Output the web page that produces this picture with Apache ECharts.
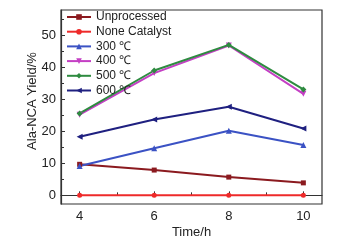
<!DOCTYPE html>
<html>
<head>
<meta charset="utf-8">
<script src="https://cdn.jsdelivr.net/npm/echarts@6/dist/echarts.min.js"></script>
<style>
  html, body { margin: 0; padding: 0; background: #fff; }
  #chart { width: 340px; height: 246px; }
</style>
</head>
<body>
<div id="chart"></div>
<script>
// time points (h)
const hours = [4, 6, 8, 10];

const unprocessed = [9.7, 7.9, 5.7, 3.9];
const noneCatalyst = [0, 0, 0, 0];
const t300 = [9.2, 14.7, 20.2, 15.7];
const t400 = [25.2, 38.2, 46.8, 31.7];
const t500 = [25.6, 39.0, 47.0, 33.1];
const t600 = [18.3, 23.7, 27.7, 20.9];

const xMajor = [4, 6, 8, 10];
const xMinor = [5, 7, 9];
const yMajor = [0, 10, 20, 30, 40, 50];
const yMinor = [5, 15, 25, 35, 45, 55];

const font = 'Liberation Sans, Arial, sans-serif';
const textColor = '#222';
const axisColor = '#333';

const seriesDefs = [
  { name: 'Unprocessed', data: unprocessed, color: '#8b1a1f', symbol: 'rect', size: 5 },
  { name: 'None Catalyst', data: noneCatalyst, color: '#ee2a2a', symbol: 'circle', size: 5 },
  { name: '300 ℃', data: t300, color: '#3b52c4', symbol: 'triangle', size: 6 },
  { name: '400 ℃', data: t400, color: '#c43fc4', symbol: 'path://M0,0 L10,0 L5,10 Z', size: 6 },
  { name: '500 ℃', data: t500, color: '#2e8b40', symbol: 'diamond', size: 6 },
  { name: '600 ℃', data: t600, color: '#1f2080', symbol: 'path://M0,5 L10,0 L10,10 Z', size: 6 },
];

const myChart = echarts.init(document.getElementById('chart'));

const hiddenAxisBits = {
  axisLine: { show: false },
  axisLabel: { show: false },
  splitLine: { show: false },
};

myChart.setOption({
  animation: false,
  textStyle: { fontFamily: font },
  grid: {
    left: 61,
    right: 18,
    top: 10,
    bottom: 42,
    show: true,
    borderColor: axisColor,
    borderWidth: 1.2,
  },
  legend: {
    orient: 'vertical',
    left: 66,
    top: 11,
    padding: 0,
    itemWidth: 24,
    itemHeight: 7,
    itemGap: 2.7,
    textStyle: { fontSize: 12, color: textColor, fontFamily: font },
    data: seriesDefs.map((s) => s.name),
  },
  xAxis: [
    {
      type: 'value',
      min: 3.5,
      max: 10.5,
      name: 'Time/h',
      nameLocation: 'middle',
      nameGap: 22,
      nameMoveOverlap: false,
      nameTextStyle: { fontSize: 13, color: textColor },
      axisLine: { show: true, lineStyle: { color: axisColor, width: 1.2 } },
      axisTick: { inside: true, length: 4, lineStyle: { color: axisColor }, customValues: xMajor },
      axisLabel: { fontSize: 13, color: textColor, margin: 6, customValues: xMajor },
      splitLine: { show: false },
    },
    {
      type: 'value',
      min: 3.5,
      max: 10.5,
      position: 'bottom',
      ...hiddenAxisBits,
      axisTick: { show: true, inside: true, length: 3, lineStyle: { color: axisColor }, customValues: xMinor },
    },
  ],
  yAxis: [
    {
      type: 'value',
      min: -2.7,
      max: 57.9,
      name: 'Ala-NCA Yield/%',
      nameLocation: 'middle',
      nameGap: 22,
      nameMoveOverlap: false,
      nameTextStyle: { fontSize: 13, color: textColor, padding: [0, 0, 0, 12] },
      axisLine: { show: true, lineStyle: { color: axisColor, width: 1.2 } },
      axisTick: { inside: true, length: 4, lineStyle: { color: axisColor }, customValues: yMajor },
      axisLabel: { fontSize: 13, color: textColor, margin: 5, customValues: yMajor },
      splitLine: { show: false },
    },
    {
      type: 'value',
      min: -2.7,
      max: 57.9,
      position: 'left',
      ...hiddenAxisBits,
      axisTick: { show: true, inside: true, length: 3, lineStyle: { color: axisColor }, customValues: yMinor },
    },
  ],
  series: seriesDefs.map((s) => ({
    name: s.name,
    type: 'line',
    data: hours.map((h, i) => [h, s.data[i]]),
    symbol: s.symbol,
    symbolSize: s.size,
    color: s.color,
    lineStyle: { width: 2, color: s.color },
    itemStyle: { color: s.color },
  })),
});
</script>
</body>
</html>
